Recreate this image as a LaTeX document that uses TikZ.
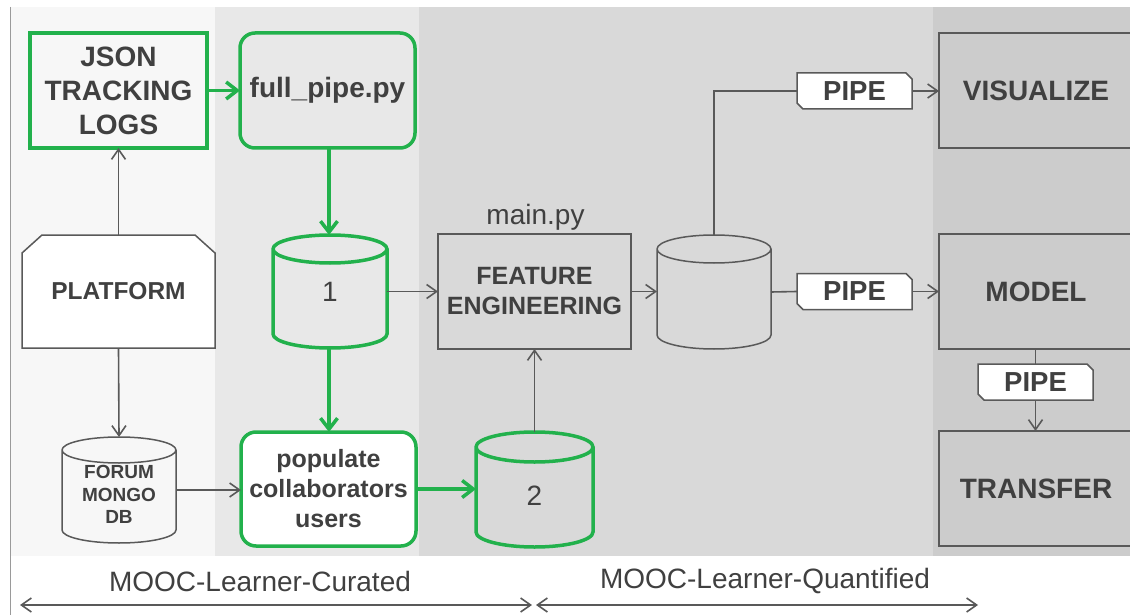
\documentclass[tikz,border=0pt]{standalone}
\usepackage{fontspec}
\setmainfont{Liberation Sans}
\usetikzlibrary{arrows.meta,calc}
\pgfdeclarelayer{bg}
\pgfdeclarelayer{shp}
\pgfsetlayers{bg,shp,main}

\definecolor{txt}{HTML}{404040}
\definecolor{lin}{HTML}{595959}
\definecolor{grn}{HTML}{22B14C}
\definecolor{bandA}{HTML}{F7F7F7}
\definecolor{bandB}{HTML}{E8E8E8}
\definecolor{bandC}{HTML}{D9D9D9}
\definecolor{bandD}{HTML}{CCCCCC}
\definecolor{edgeline}{HTML}{9A9A9A}

\newcommand{\fs}[2]{\fontsize{#1}{#2}\selectfont}

% cylinder outline around a (ghost) node: #1 node, #2 ellipse half height, #3 style
\newcommand{\drawcyl}[3]{%
\begin{pgfonlayer}{shp}
\draw[#3] let \p1=(#1.north west), \p2=(#1.south east), \n1={(\x2-\x1)/2} in
 (\x1,\y1-#2) -- (\x1,\y2+#2)
 arc[start angle=180,end angle=360,x radius={\n1*1pt},y radius=#2]
 -- (\x2,\y1-#2)
 arc[start angle=0,end angle=180,x radius={\n1*1pt},y radius=#2] -- cycle
 (\x1,\y1-#2) arc[start angle=180,end angle=360,x radius={\n1*1pt},y radius=#2];
\end{pgfonlayer}}

% PIPE tag outline (cut top-right and bottom-left corners)
\newcommand{\drawpipe}[1]{%
\begin{pgfonlayer}{shp}
\draw[draw=lin, line width=1.5pt, fill=white]
 (#1.north west) -- ([xshift=-6pt]#1.north east) -- ([yshift=-6pt]#1.north east)
 -- (#1.south east) -- ([xshift=6pt]#1.south west) -- ([yshift=6pt]#1.south west) -- cycle;
\end{pgfonlayer}}

% PLATFORM outline (cut top corners)
\newcommand{\drawplat}[1]{%
\begin{pgfonlayer}{shp}
\draw[draw=lin, line width=1.5pt, fill=white]
 (#1.south west) -- ([yshift=-18pt]#1.north west) -- ([xshift=20pt]#1.north west)
 -- ([xshift=-20pt]#1.north east) -- ([yshift=-18pt]#1.north east) -- (#1.south east) -- cycle;
\end{pgfonlayer}}

\begin{document}
\begin{tikzpicture}[x=1pt,y=1pt,
 every node/.style={text=txt, align=center, inner sep=0pt, outer sep=0pt},
 graybox/.style={draw=lin, line width=1.5pt},
 greenbox/.style={draw=grn, line width=3.5pt},
 grayarrow/.style={draw=lin, line width=1.6pt, -{Straight Barb[length=10pt,width=14pt]}},
 grayline/.style={draw=lin, line width=1.6pt},
 greenarrow/.style={draw=grn, line width=3.5pt, -{Straight Barb[length=11pt,width=17pt]}},
 bigbold/.style={font=\bfseries\fs{28}{34}},
 midbold/.style={font=\bfseries\fs{25}{30}},
 plain/.style={font=\fs{28}{34}},
 pipetag/.style={minimum width=115pt, minimum height=36pt, font=\bfseries\fs{27.5}{33}},
 rightbox/.style={graybox, fill=bandD, minimum width=194pt, minimum height=115pt, bigbold},
 rangearrow/.style={draw=lin, line width=1.6pt, {Straight Barb[length=10pt,width=14pt]}-{Straight Barb[length=10pt,width=14pt]}},
]
\useasboundingbox (0,0) rectangle (1130,-615);
\clip (0,0) rectangle (1130,-615);

\begin{pgfonlayer}{bg}
\fill[white] (0,0) rectangle (1130,-615);
\fill[bandA] (11,-7) rectangle (215,-556);
\fill[bandB] (215,-7) rectangle (419,-556);
\fill[bandC] (419,-7) rectangle (933,-556);
\fill[bandD] (933,-7) rectangle (1130,-556);
\draw[edgeline, line width=1.5pt] (10.5,-7) -- (10.5,-615);
\end{pgfonlayer}

% ---- nodes ----
\node[greenbox, fill=bandA, minimum width=177pt, minimum height=115pt, bigbold] (json) at (118.5,-90.5) {JSON\\TRACKING\\LOGS};
\node[greenbox, fill=bandB, rounded corners=15pt, minimum width=175pt, minimum height=115pt, bigbold] (fp) at (327.5,-90.5) {full\_pipe.py};

\node[minimum width=193pt, minimum height=113pt, font=\bfseries\fs{24.5}{30}] (plat) at (118.5,-291.5) {PLATFORM};
\drawplat{plat}

\node[minimum width=114pt, minimum height=106pt,
 label={[font=\bfseries\fs{19}{22.5}, yshift=-4.5pt]center:{FORUM\\MONGO\\DB}}] (forum) at (119,-490) {};
\drawcyl{forum}{13pt}{draw=lin, line width=1.5pt, fill=bandA}

\node[minimum width=114pt, minimum height=113pt, plain] (c1) at (330,-291.5) {1};
\drawcyl{c1}{14pt}{draw=grn, line width=3.5pt, fill=bandB}

\node[greenbox, fill=white, rounded corners=15pt, minimum width=175pt, minimum height=114pt, midbold] (pop) at (328.5,-489) {populate\\collaborators\\users};

\node[minimum width=117pt, minimum height=115pt,
 label={[plain, yshift=-6pt]center:2}] (c2) at (534.5,-489.5) {};
\drawcyl{c2}{15pt}{draw=grn, line width=3.5pt, fill=bandC}

\node[graybox, fill=bandC, minimum width=193pt, minimum height=115pt, midbold] (fe) at (534.5,-291.5) {FEATURE\\ENGINEERING};
\node[plain, anchor=base] (mainpy) at (535.5,-224) {main.py};

\node[minimum width=114pt, minimum height=114pt] (c3) at (714,-292) {};
\drawcyl{c3}{14pt}{draw=lin, line width=1.5pt, fill=bandC}

\node[pipetag] (p1) at (854.5,-91) {PIPE};
\drawpipe{p1}
\node[pipetag] (p2) at (854.5,-291.5) {PIPE};
\drawpipe{p2}
\node[pipetag] (p3) at (1035.5,-382) {PIPE};
\drawpipe{p3}

\node[rightbox] (vis) at (1036,-90.5) {VISUALIZE};
\node[rightbox] (model) at (1036,-291.5) {MODEL};
\node[rightbox] (tr) at (1036,-488.5) {TRANSFER};

% ---- connectors ----
\draw[greenarrow] (json.east) -- (fp.west);
\draw[greenarrow] (329,-90.5 |- fp.south) -- (329,-90.5 |- c1.north);
\draw[greenarrow] (329,-90.5 |- c1.south) -- (329,-90.5 |- pop.north);
\draw[greenarrow] (pop.east) -- (pop.east -| c2.west);

\draw[grayarrow] (plat.north) -- (json.south);
\draw[grayarrow] (plat.south) -- (forum.north);
\draw[grayarrow] (forum.east) -- (forum.east -| pop.west);
\draw[grayarrow] (c2.north) -- (fe.south);
\draw[grayarrow] (c1.east) -- (fe.west);
\draw[grayarrow] (fe.east) -- (fe.east -| c3.west);

\draw[grayline] (c3.north) |- (p1.west);
\draw[grayarrow] (p1.east) -- (p1.east -| vis.west);
\draw[grayline] (c3.east) -- (p2.west);
\draw[grayarrow] (p2.east) -- (p2.east -| model.west);
\draw[grayline] (p3.north |- model.south) -- (p3.north);
\draw[grayarrow] (p3.south) -- (p3.south |- tr.north);

% ---- bottom ranges ----
\coordinate (a1) at (20,-605);
\coordinate (a2) at (532,-605);
\coordinate (b1) at (536,-605);
\coordinate (b2) at (978,-605);
\draw[rangearrow] (a1) -- (a2);
\draw[rangearrow] (b1) -- (b2);
\node[plain] (cur) at (260,-581) {MOOC-Learner-Curated};
\node[plain] (quant) at (765,-581) {MOOC-Learner-Quantified};
\end{tikzpicture}
\end{document}
